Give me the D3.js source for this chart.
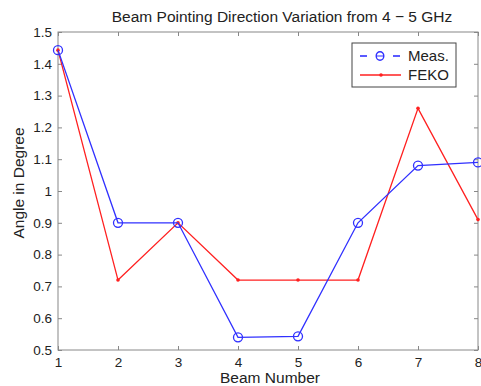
<!DOCTYPE html>
<html lang="en">
<head>
<meta charset="utf-8"/>
<script src="https://d3js.org/d3.v7.min.js"></script>
<style>
  body { margin: 0; background: #fff; }
  text { font-family: "Liberation Sans", Arial, sans-serif; fill: #222; }
</style>
</head>
<body>
<div id="chart"></div>
<script>
  // values
  var beams = [1, 2, 3, 4, 5, 6, 7, 8];
  var meas = [1.443, 0.90, 0.90, 0.54, 0.543, 0.90, 1.08, 1.09];
  var feko = [1.443, 0.72, 0.90, 0.72, 0.72, 0.72, 1.26, 0.91];
  var yTicks = [0.5, 0.6, 0.7, 0.8, 0.9, 1, 1.1, 1.2, 1.3, 1.4, 1.5];

  var W = 481, H = 386;
  var margin = {top: 32, right: 3, bottom: 36, left: 58};
  var width = W - margin.left - margin.right;
  var height = H - margin.top - margin.bottom;

  var svg = d3.select("#chart").append("svg")
      .attr("width", W).attr("height", H);
  var g = svg.append("g")
      .attr("transform", "translate(" + margin.left + "," + margin.top + ")");

  var x = d3.scaleLinear().domain([1, 8]).range([0, width]);
  var y = d3.scaleLinear().domain([0.5, 1.5]).range([height, 0]);

  var axisCol = "#888";

  // frame
  g.append("rect")
      .attr("width", width).attr("height", height)
      .attr("fill", "none").attr("stroke", axisCol).attr("stroke-width", 1);

  // ticks inside (MATLAB style), on all four sides
  var xb = g.append("g").attr("transform", "translate(0," + height + ")")
      .call(d3.axisBottom(x).tickValues(beams).tickSize(-4).tickPadding(7).tickFormat(d3.format("d")));
  var xt = g.append("g")
      .call(d3.axisTop(x).tickValues(beams).tickSize(-4).tickFormat(""));
  var yl = g.append("g")
      .call(d3.axisLeft(y).tickValues(yTicks).tickSize(-4).tickPadding(6).tickFormat(function (d) { return d3.format("")(+d.toFixed(1)); }));
  var yr = g.append("g").attr("transform", "translate(" + width + ",0)")
      .call(d3.axisRight(y).tickValues(yTicks).tickSize(-4).tickFormat(""));

  [xb, xt, yl, yr].forEach(function (a) {
    a.select(".domain").remove();
    a.selectAll("line").attr("stroke", axisCol);
    a.selectAll("text").style("font-size", "13.5px").attr("fill", "#222");
  });

  // legend box (drawn before lines so it hides the ticks under it)
  var lg = g.append("g").attr("transform", "translate(" + (352 - margin.left) + "," + (43 - margin.top) + ")");
  lg.append("rect").attr("width", 104).attr("height", 44)
      .attr("fill", "#fff").attr("stroke", "#444").attr("stroke-width", 1);

  var line = d3.line()
      .x(function (d, i) { return x(beams[i]); })
      .y(function (d) { return y(d); });

  g.append("path").datum(feko)
      .attr("d", line).attr("fill", "none")
      .attr("stroke", "#ff2020").attr("stroke-width", 1.3);
  g.selectAll(".fdot").data(feko).enter().append("circle")
      .attr("cx", function (d, i) { return x(beams[i]); })
      .attr("cy", function (d) { return y(d); })
      .attr("r", 1.8).attr("fill", "#ff2020");

  g.append("path").datum(meas)
      .attr("d", line).attr("fill", "none")
      .attr("stroke", "#3030ff").attr("stroke-width", 1.3);
  g.selectAll(".mdot").data(meas).enter().append("circle")
      .attr("cx", function (d, i) { return x(beams[i]); })
      .attr("cy", function (d) { return y(d); })
      .attr("r", 4.5).attr("fill", "none")
      .attr("stroke", "#3030ff").attr("stroke-width", 1.3);

  // legend entries
  lg.append("line").attr("x1", 8).attr("x2", 15).attr("y1", 13).attr("y2", 13)
      .attr("stroke", "#3030ff").attr("stroke-width", 1.6);
  lg.append("line").attr("x1", 41).attr("x2", 48).attr("y1", 13).attr("y2", 13)
      .attr("stroke", "#3030ff").attr("stroke-width", 1.6);
  lg.append("ellipse").attr("cx", 28).attr("cy", 13).attr("rx", 3.8).attr("ry", 4.2)
      .attr("fill", "none").attr("stroke", "#3030ff").attr("stroke-width", 1.4);
  lg.append("line").attr("x1", 24.5).attr("x2", 31.5).attr("y1", 13).attr("y2", 13)
      .attr("stroke", "#3030ff").attr("stroke-width", 1);
  lg.append("text").attr("x", 56).attr("y", 18).text("Meas.").style("font-size", "15px");

  lg.append("line").attr("x1", 8).attr("x2", 49).attr("y1", 32).attr("y2", 32)
      .attr("stroke", "#ff2020").attr("stroke-width", 1.6);
  lg.append("circle").attr("cx", 29).attr("cy", 32).attr("r", 1.8).attr("fill", "#ff2020");
  lg.append("text").attr("x", 56).attr("y", 37).text("FEKO").style("font-size", "15px");

  // titles
  svg.append("text").attr("x", 282).attr("y", 22).attr("text-anchor", "middle")
      .style("font-size", "15.5px").text("Beam Pointing Direction Variation from 4 \u2212 5 GHz");
  svg.append("text").attr("x", 270).attr("y", 383).attr("text-anchor", "middle")
      .style("font-size", "15.5px").text("Beam Number");
  svg.append("text").attr("transform", "translate(24,183) rotate(-90)")
      .attr("text-anchor", "middle").style("font-size", "15.5px").text("Angle in Degree");
</script>
</body>
</html>
